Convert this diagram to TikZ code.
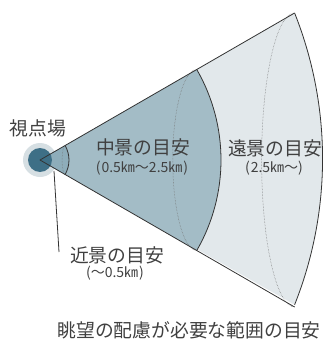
\documentclass[tikz,border=0pt]{standalone}
\usepackage{fontspec}
\setmainfont{Noto Sans CJK JP}
\begin{document}
\begin{tikzpicture}[x=1pt,y=-1pt,
  outline/.style={draw=black!80, line width=0.8pt, line join=round},
  hidden/.style={draw=black!55, line width=0.5pt, densely dotted},
  big/.style={font=\fontsize{18.8}{22}\selectfont, text=black!75, inner sep=0pt},
  small/.style={font=\fontsize{14}{16}\selectfont, text=black!75, inner sep=0pt}]
\definecolor{farc}{HTML}{E2E8EB}
\definecolor{midc}{HTML}{A3BCC6}
\definecolor{nearc}{HTML}{8EADBA}
\definecolor{dotc}{HTML}{3E6F86}
\definecolor{haloc}{HTML}{D6DFE3}
\useasboundingbox (0,0) rectangle (324,340);
% key points
\coordinate (A) at (40,160);
\coordinate (U) at (294.6,13);
\coordinate (L) at (294.6,307);
\coordinate (MU) at (196.75,69.5);
\coordinate (ML) at (196.75,250.5);
\coordinate (NU) at (65.1,145.5);
\coordinate (NL) at (65.1,174.5);
% halo
\fill[haloc] (A) circle[radius=17];
% far region
\fill[farc] (A) -- (U) arc[start angle=-21.7, end angle=21.7, radius=394.6] -- cycle;
% mid region
\fill[midc] (A) -- (MU) arc[start angle=-30, end angle=30, radius=181] -- cycle;
% near region
\fill[nearc] (A) -- (NU) arc[start angle=-30, end angle=30, radius=29] -- cycle;
% viewpoint
\fill[dotc] (A) circle[radius=12];
% hidden (dotted) back arcs
\draw[hidden] (NL) arc[start angle=90, end angle=270, x radius=3, y radius=14.5];
\draw[hidden] (ML) arc[start angle=90, end angle=270, x radius=24, y radius=90.5];
\draw[hidden] (L) arc[start angle=90, end angle=270, x radius=33, y radius=147];
% outlines
\draw[outline] (U) -- (A) -- (L);
\draw[outline] (U) arc[start angle=-21.7, end angle=21.7, radius=394.6];
\draw[outline] (MU) arc[start angle=-30, end angle=30, radius=181];
\draw[outline] (NU) arc[start angle=-30, end angle=30, radius=29];
% labels
\node[big] (vp) at (38,128) {視点場};
\node[big] (midl) at (143,147) {中景の目安};
\node[small] (mids) at (142,168) {(\kern1pt0.5㎞〜2.5㎞\kern1pt)};
\node[big] (farl) at (275,148) {遠景の目安};
\node[small] (fars) at (274,168) {(\kern1pt2.5㎞〜)};
\node[big] (nearl) at (117,255) {近景の目安};
\node[small] (nears) at (115,273) {(〜0.5㎞\kern1pt)};
\node[big] (title) at (189,330) {眺望の配慮が必要な範囲の目安};
% leader line
\coordinate (np) at (54,171);
\coordinate (ne) at (59,252);
\draw[black!80, line width=0.8pt] (np) -- (ne);
\end{tikzpicture}
\end{document}
